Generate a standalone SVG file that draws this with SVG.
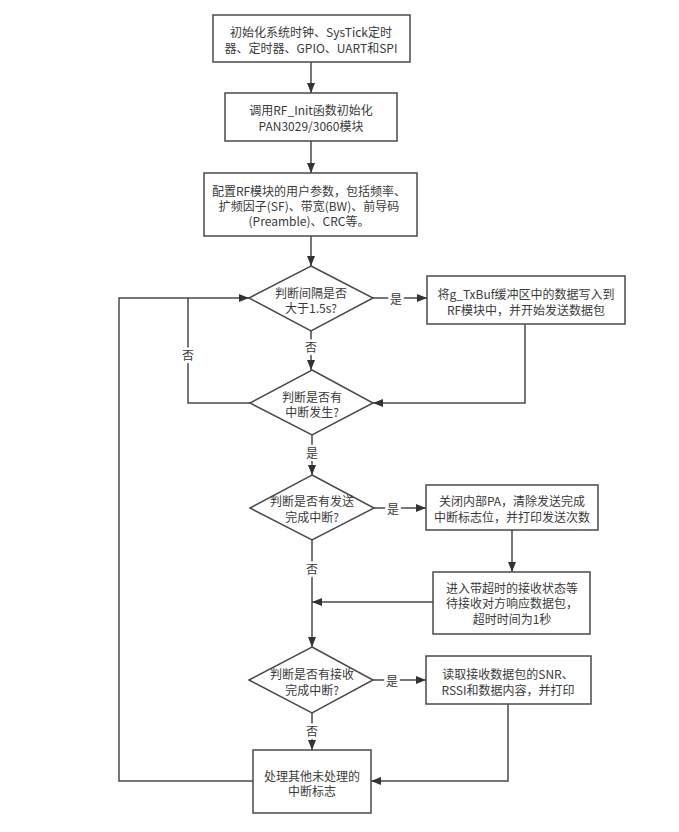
<svg xmlns="http://www.w3.org/2000/svg" width="679" height="832" viewBox="0 0 679 832">
<style>
  .box{fill:#fff;stroke:#4a4a4a;stroke-width:1.5}
  .t{font-family:"Microsoft YaHei","Noto Sans CJK SC","Noto Sans",sans-serif;font-size:12px;fill:#3a3a3a;text-anchor:middle;dominant-baseline:central}
  .lbl{font-family:"Microsoft YaHei","Noto Sans CJK SC","Noto Sans",sans-serif;font-size:12px;fill:#3a3a3a;text-anchor:middle;dominant-baseline:central;stroke:#fff;stroke-width:5;paint-order:stroke}
  .c{fill:none;stroke:#4a4a4a;stroke-width:1.5}
</style>
<defs>
  <marker id="ah" viewBox="0 0 10 10" refX="10" refY="5" markerWidth="10" markerHeight="10" markerUnits="userSpaceOnUse" orient="auto">
    <path d="M0,1 L10,5 L0,9 Z" fill="#333"/>
  </marker>
</defs>
<rect width="679" height="832" fill="#fff"/>

<g id="connectors">
  <path class="c" d="M311,62 V93" marker-end="url(#ah)"/>
  <path class="c" d="M311,141 V173" marker-end="url(#ah)"/>
  <path class="c" d="M311,236 V266" marker-end="url(#ah)"/>
  <path class="c" d="M373,298 H427" marker-end="url(#ah)"/>
  <path class="c" d="M311,331 V370" marker-end="url(#ah)"/>
  <path class="c" d="M525,324 V403 H373" marker-end="url(#ah)"/>
  <path class="c" d="M250,403 H188 V298 H249" marker-end="url(#ah)"/>
  <path class="c" d="M312,435 V475" marker-end="url(#ah)"/>
  <path class="c" d="M374,508 H426" marker-end="url(#ah)"/>
  <path class="c" d="M512,530 V572" marker-end="url(#ah)"/>
  <path class="c" d="M312,540 V647" marker-end="url(#ah)"/>
  <path class="c" d="M433,602 H312" marker-end="url(#ah)"/>
  <path class="c" d="M373,680 H426" marker-end="url(#ah)"/>
  <path class="c" d="M312,713 V750" marker-end="url(#ah)"/>
  <path class="c" d="M508,704 V781 H371" marker-end="url(#ah)"/>
  <path class="c" d="M253,781 H119 V298 H188"/>
  <text class="lbl" x="396" y="298">是</text>
  <text class="lbl" x="311" y="346">否</text>
  <text class="lbl" x="188" y="354">否</text>
  <text class="lbl" x="312" y="452">是</text>
  <text class="lbl" x="393" y="508">是</text>
  <text class="lbl" x="312" y="568">否</text>
  <text class="lbl" x="392" y="680">是</text>
  <text class="lbl" x="312" y="730">否</text>
</g>

<g id="n1">
  <rect class="box" x="213" y="15" width="197" height="47"/>
  <text class="t" x="311" y="31">初始化系统时钟、SysTick定时</text>
  <text class="t" x="311" y="47">器、定时器、GPIO、UART和SPI</text>
</g>
<g id="n2">
  <rect class="box" x="225" y="93" width="172" height="48"/>
  <text class="t" x="311" y="109">调用RF_Init函数初始化</text>
  <text class="t" x="311" y="125">PAN3029/3060模块</text>
</g>
<g id="n3">
  <rect class="box" x="204" y="173" width="213" height="63"/>
  <text class="t" x="309" y="190">配置RF模块的用户参数，包括频率、</text>
  <text class="t" x="309" y="205">扩频因子(SF)、带宽(BW)、前导码</text>
  <text class="t" x="309" y="220">(Preamble)、CRC等。</text>
</g>
<g id="d1">
  <polygon class="box" points="311,266 373,298 311,331 249,298"/>
  <text class="t" x="311" y="292">判断间隔是否</text>
  <text class="t" x="311" y="307">大于1.5s?</text>
</g>
<g id="n4">
  <rect class="box" x="427" y="276" width="198" height="48"/>
  <text class="t" x="526" y="293">将g_TxBuf缓冲区中的数据写入到</text>
  <text class="t" x="526" y="309">RF模块中，并开始发送数据包</text>
</g>
<g id="d2">
  <polygon class="box" points="312,370 373,403 312,435 250,403"/>
  <text class="t" x="312" y="396">判断是否有</text>
  <text class="t" x="312" y="411">中断发生?</text>
</g>
<g id="d3">
  <polygon class="box" points="312,475 374,508 312,540 250,508"/>
  <text class="t" x="312" y="500">判断是否有发送</text>
  <text class="t" x="312" y="516">完成中断?</text>
</g>
<g id="n5">
  <rect class="box" x="426" y="485" width="172" height="45"/>
  <text class="t" x="512" y="500">关闭内部PA，清除发送完成</text>
  <text class="t" x="512" y="516">中断标志位，并打印发送次数</text>
</g>
<g id="n6">
  <rect class="box" x="433" y="572" width="157" height="62"/>
  <text class="t" x="512" y="587">进入带超时的接收状态等</text>
  <text class="t" x="512" y="602">待接收对方响应数据包，</text>
  <text class="t" x="512" y="618">超时时间为1秒</text>
</g>
<g id="d4">
  <polygon class="box" points="312,647 373,680 312,713 249,680"/>
  <text class="t" x="312" y="673">判断是否有接收</text>
  <text class="t" x="312" y="689">完成中断?</text>
</g>
<g id="n7">
  <rect class="box" x="426" y="656" width="165" height="48"/>
  <text class="t" x="508" y="673">读取接收数据包的SNR、</text>
  <text class="t" x="508" y="689">RSSI和数据内容，并打印</text>
</g>
<g id="n8">
  <rect class="box" x="253" y="750" width="118" height="63"/>
  <text class="t" x="312" y="775">处理其他未处理的</text>
  <text class="t" x="312" y="790">中断标志</text>
</g>
</svg>
